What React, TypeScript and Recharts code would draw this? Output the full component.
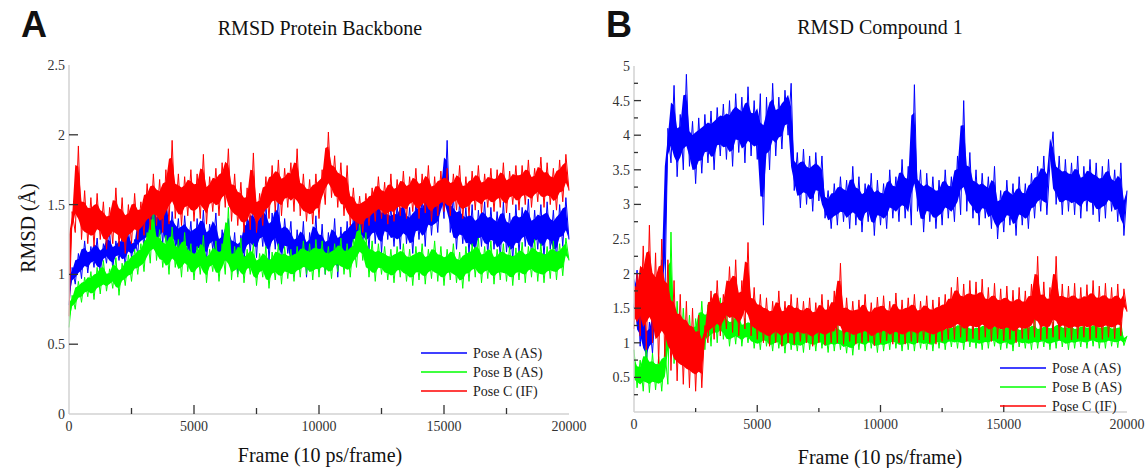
import { ComposedChart, Area, Line, XAxis, YAxis } from "recharts";

const SERIF = '"Liberation Serif", "Times New Roman", serif';
const SANS = '"Liberation Sans", Arial, sans-serif';
const TICK = "#333";
const BORDER = "#d2d2d2";
const BLUE = "#0000ff";
const GREEN = "#00ff00";
const RED = "#ff0000";

// frame index every 125 frames, 0..20000
const FRAMES = Array.from({ length: 161 }, (_, i) => i * 125);

// ---- Panel A: RMSD protein backbone (Å), one row = 1000 frames
const A_POSE_A = [
  0.78, 1.05, 0.93, 1.15, 0.97, 1.24, 1.01, 1.2,
  1.05, 1.26, 1.0, 1.22, 1.08, 1.3, 1.04, 1.24,
  1.1, 1.28, 1.06, 1.32, 1.12, 1.25, 1.15, 1.45,
  1.18, 1.52, 1.2, 1.58, 1.15, 1.48, 1.22, 1.62,
  1.12, 1.45, 1.2, 1.4, 1.08, 1.42, 1.15, 1.38,
  1.05, 1.4, 1.12, 1.46, 1.1, 1.36, 1.18, 1.44,
  1.02, 1.32, 1.1, 1.4, 1.05, 1.3, 1.0, 1.28,
  1.08, 1.42, 1.15, 1.5, 1.12, 1.45, 1.2, 1.52,
  1.1, 1.44, 1.18, 1.55, 1.08, 1.4, 1.15, 1.38,
  1.0, 1.32, 1.05, 1.38, 0.98, 1.3, 1.08, 1.42,
  1.02, 1.36, 1.0, 1.3, 1.05, 1.4, 0.98, 1.34,
  1.05, 1.38, 1.1, 1.42, 1.2, 1.5, 1.22, 1.48,
  1.18, 1.55, 1.22, 1.6, 1.15, 1.52, 1.25, 1.48,
  1.2, 1.5, 1.18, 1.56, 1.22, 1.48, 1.15, 1.52,
  1.25, 1.55, 1.2, 1.62, 1.28, 1.58, 1.3, 1.66,
  1.4, 1.96, 1.3, 1.56, 1.18, 1.52, 1.22, 1.48,
  1.15, 1.5, 1.12, 1.46, 1.2, 1.52, 1.14, 1.48,
  1.18, 1.45, 1.12, 1.52, 1.16, 1.44, 1.1, 1.5,
  1.15, 1.48, 1.2, 1.54, 1.12, 1.46, 1.18, 1.5,
  1.12, 1.52, 1.18, 1.46, 1.1, 1.5, 1.2, 1.55,
  1.25,
];

const A_POSE_B = [
  0.62, 0.85, 0.75, 0.95, 0.8, 0.98, 0.84, 1.02,
  0.82, 1.05, 0.86, 1.1, 0.88, 1.04, 0.9, 1.12,
  0.85, 1.08, 0.92, 1.14, 0.95, 1.18, 1.0, 1.22,
  1.02, 1.3, 1.08, 1.48, 1.1, 1.32, 1.05, 1.28,
  1.0, 1.34, 1.05, 1.25, 0.98, 1.3, 1.02, 1.22,
  0.96, 1.2, 1.0, 1.28, 0.94, 1.18, 1.02, 1.24,
  0.95, 1.22, 1.0, 1.48, 0.96, 1.2, 0.98, 1.26,
  0.94, 1.18, 1.0, 1.22, 0.92, 1.15, 0.98, 1.2,
  0.9, 1.16, 0.96, 1.22, 0.93, 1.2, 0.97, 1.18,
  0.95, 1.2, 0.98, 1.24, 1.0, 1.22, 0.96, 1.25,
  0.98, 1.24, 1.0, 1.2, 0.97, 1.22, 1.02, 1.26,
  1.0, 1.22, 0.98, 1.25, 1.05, 1.38, 1.1, 1.3,
  0.98, 1.24, 0.95, 1.22, 1.0, 1.2, 0.96, 1.18,
  0.94, 1.2, 0.98, 1.22, 0.95, 1.18, 0.92, 1.2,
  0.96, 1.22, 0.93, 1.18, 0.97, 1.24, 0.95, 1.2,
  0.92, 1.18, 0.96, 1.22, 0.94, 1.16, 0.9, 1.2,
  0.95, 1.22, 0.98, 1.26, 0.94, 1.2, 0.97, 1.24,
  0.93, 1.18, 0.96, 1.22, 0.95, 1.2, 0.92, 1.19,
  0.96, 1.23, 0.94, 1.2, 0.98, 1.25, 0.95, 1.22,
  0.94, 1.2, 0.97, 1.24, 0.96, 1.22, 0.99, 1.26,
  1.1,
];

const A_POSE_C = [
  0.7, 1.45, 1.3, 1.92, 1.25, 1.6, 1.22, 1.55,
  1.2, 1.58, 1.25, 1.52, 1.18, 1.48, 1.22, 1.62,
  1.2, 1.55, 1.15, 1.5, 1.22, 1.58, 1.25, 1.52,
  1.28, 1.65, 1.32, 1.72, 1.35, 1.68, 1.3, 1.75,
  1.36, 1.96, 1.4, 1.72, 1.35, 1.7, 1.42, 1.75,
  1.38, 1.72, 1.4, 1.86, 1.36, 1.7, 1.45, 1.76,
  1.42, 1.8, 1.48, 1.9, 1.38, 1.72, 1.35, 1.66,
  1.3, 1.62, 1.32, 1.87, 1.3, 1.58, 1.35, 1.7,
  1.4, 1.78, 1.45, 1.82, 1.42, 1.76, 1.48, 1.8,
  1.45, 1.9, 1.42, 1.72, 1.38, 1.68, 1.36, 1.72,
  1.4, 1.75, 1.5, 2.02, 1.55, 1.85, 1.48, 1.8,
  1.42, 1.78, 1.35, 1.62, 1.32, 1.56, 1.3, 1.58,
  1.35, 1.62, 1.38, 1.7, 1.4, 1.66, 1.36, 1.72,
  1.38, 1.68, 1.42, 1.74, 1.4, 1.7, 1.45, 1.76,
  1.4, 1.72, 1.44, 1.78, 1.38, 1.7, 1.42, 1.74,
  1.45, 1.76, 1.42, 1.72, 1.46, 1.78, 1.4, 1.7,
  1.42, 1.74, 1.46, 1.78, 1.44, 1.72, 1.48, 1.76,
  1.45, 1.75, 1.48, 1.8, 1.44, 1.74, 1.5, 1.78,
  1.46, 1.78, 1.5, 1.82, 1.48, 1.76, 1.52, 1.84,
  1.48, 1.8, 1.5, 1.76, 1.46, 1.82, 1.52, 1.86,
  1.6,
];

// ---- Panel B: RMSD compound 1 (Å)
const B_POSE_A = [
  1.5, 2.05, 0.95, 1.7, 0.7, 1.3, 0.85, 1.55,
  1.3, 2.2, 1.6, 4.1, 3.6, 4.72, 3.4, 4.3,
  3.5, 4.88, 3.55, 4.2, 3.3, 4.25, 3.45, 4.3,
  3.6, 4.35, 3.5, 4.4, 3.7, 4.45, 3.65, 4.5,
  3.55, 4.6, 3.75, 4.55, 3.6, 4.7, 3.7, 4.5,
  3.65, 4.6, 2.7, 4.55, 3.5, 4.75, 3.7, 4.55,
  3.8, 4.65, 4.0, 4.75, 3.2, 3.75, 2.95, 3.8,
  3.0, 3.7, 2.9, 3.75, 3.05, 3.7, 2.8, 3.2,
  2.65, 3.3, 2.7, 3.4, 2.75, 3.35, 2.65, 3.55,
  2.7, 3.4, 2.6, 3.3, 2.75, 3.45, 2.55, 3.35,
  2.7, 3.3, 2.65, 3.5, 2.8, 3.4, 2.75, 3.65,
  2.8, 3.55, 2.7, 4.73, 2.9, 3.5, 2.6, 3.45,
  2.75, 3.4, 2.65, 3.35, 2.7, 3.5, 2.8, 3.4,
  2.75, 3.7, 2.85, 4.5, 2.9, 3.75, 2.8, 3.5,
  2.7, 3.45, 2.8, 3.4, 2.65, 3.55, 2.5, 3.2,
  2.6, 3.35, 2.7, 3.3, 2.55, 3.4, 2.7, 3.3,
  2.65, 3.45, 2.8, 3.55, 2.9, 3.7, 2.85, 3.6,
  4.05, 3.0, 3.7, 2.85, 3.65, 2.9, 3.6, 2.85,
  3.7, 2.8, 3.55, 2.9, 3.65, 2.85, 3.6, 2.75,
  3.55, 2.8, 3.65, 2.9, 3.5, 2.75, 3.6, 2.55,
  3.2,
];

const B_POSE_B = [
  0.9, 0.35, 0.75, 0.3, 0.95, 0.28, 0.85, 0.32,
  0.8, 0.3, 0.9, 0.4, 2.6, 0.7, 1.6, 0.75,
  1.5, 0.8, 1.4, 0.75, 1.35, 0.85, 1.6, 0.9,
  1.55, 0.95, 1.7, 1.0, 1.65, 1.05, 1.45, 0.95,
  1.4, 0.98, 1.5, 0.95, 1.35, 1.0, 1.38, 0.92,
  1.3, 0.9, 1.35, 0.95, 1.28, 0.88, 1.32, 0.92,
  1.3, 0.85, 1.35, 0.9, 1.25, 0.88, 1.3, 0.86,
  1.4, 0.9, 1.3, 0.88, 1.32, 0.92, 1.28, 0.86,
  1.35, 0.88, 1.3, 0.9, 1.26, 0.85, 1.32, 0.82,
  1.3, 0.9, 1.34, 0.88, 1.28, 0.92, 1.3, 0.86,
  1.32, 0.88, 1.28, 0.9, 1.35, 0.92, 1.3, 0.88,
  1.3, 0.9, 1.35, 0.88, 1.3, 0.92, 1.28, 0.9,
  1.32, 0.88, 1.3, 0.92, 1.34, 0.9, 1.28, 0.94,
  1.3, 0.92, 1.35, 0.9, 1.32, 0.94, 1.28, 0.92,
  1.3, 0.9, 1.34, 0.92, 1.3, 0.95, 1.32, 0.9,
  1.28, 0.92, 1.32, 0.88, 1.3, 0.94, 1.26, 0.92,
  1.3, 0.9, 1.34, 0.92, 1.28, 0.94, 1.32, 0.9,
  1.3, 0.92, 1.35, 0.94, 1.3, 0.9, 1.32, 0.92,
  1.28, 0.94, 1.32, 0.92, 1.3, 0.95, 1.34, 0.92,
  1.3, 0.92, 1.32, 0.95, 1.28, 0.93, 1.3, 0.96,
  1.1,
];

const B_POSE_C = [
  1.2, 2.0, 1.1, 2.4, 0.9, 2.7, 1.0, 2.3,
  0.7, 2.5, 0.8, 2.2, 0.6, 1.9, 0.45, 1.7,
  0.4, 1.6, 0.35, 1.5, 0.3, 1.4, 0.35, 1.25,
  1.0, 1.75, 1.05, 1.9, 1.1, 1.7, 1.2, 2.1,
  1.15, 2.2, 1.1, 1.9, 1.2, 2.45, 1.1, 1.8,
  1.05, 1.7, 1.0, 1.65, 0.95, 1.6, 1.0, 1.75,
  0.95, 1.6, 1.0, 1.7, 0.98, 1.65, 1.02, 1.6,
  1.0, 1.65, 0.95, 1.58, 1.0, 1.7, 0.97, 1.62,
  1.0, 1.75, 1.0, 2.15, 0.98, 1.65, 1.02, 1.6,
  0.98, 1.62, 1.0, 1.7, 1.02, 1.58, 0.96, 1.66,
  1.0, 1.68, 1.03, 1.6, 0.98, 1.72, 1.0, 1.62,
  0.98, 1.65, 1.02, 1.7, 1.0, 1.6, 1.04, 1.68,
  1.0, 1.62, 0.98, 1.66, 1.02, 1.7, 1.05, 1.8,
  1.05, 1.95, 1.08, 1.85, 1.02, 1.9, 1.06, 1.88,
  1.04, 1.92, 1.08, 1.8, 1.02, 1.86, 1.06, 1.78,
  1.03, 1.82, 1.05, 1.76, 1.0, 1.8, 1.06, 1.75,
  1.05, 1.85, 1.08, 2.25, 1.04, 1.88, 1.06, 1.8,
  1.08, 2.25, 1.05, 1.85, 1.08, 1.82, 1.04, 1.86,
  1.06, 1.8, 1.08, 1.84, 1.05, 1.9, 1.07, 1.82,
  1.05, 1.86, 1.08, 1.8, 1.06, 1.85, 1.1, 1.78,
  1.45,
];

const X_TICKS = [0, 2500, 5000, 7500, 10000, 12500, 15000, 17500, 20000];
const A_Y_TICKS = [0, 0.5, 1, 1.5, 2, 2.5];
const B_Y_TICKS = [0, 0.25, 0.5, 0.75, 1, 1.25, 1.5, 1.75, 2, 2.25, 2.5, 2.75, 3, 3.25, 3.5, 3.75, 4, 4.25, 4.5, 4.75, 5];

const SERIES = [
  { key: "a", name: "Pose A (AS)", color: BLUE },
  { key: "b", name: "Pose B (AS)", color: GREEN },
  { key: "c", name: "Pose C (IF)", color: RED },
];

// the trace flickers between neighbouring samples: fill the core of that span,
// the raw trace drawn on top gives the spiky fringe
const core = (v: number[], i: number): [number, number] => {
  const n = v[Math.min(i + 1, v.length - 1)];
  const lo = Math.min(v[i], n);
  const hi = Math.max(v[i], n);
  const trim = (hi - lo) * 0.22;
  return [lo + trim, hi - trim];
};

const rowsFor = (a: number[], b: number[], c: number[]) =>
  FRAMES.map((f, i) => ({
    frame: f,
    a: a[i], b: b[i], c: c[i],
    aCore: core(a, i), bCore: core(b, i), cCore: core(c, i),
  }));

const ROWS_A = rowsFor(A_POSE_A, A_POSE_B, A_POSE_C);
const ROWS_B = rowsFor(B_POSE_A, B_POSE_B, B_POSE_C);

type TickArgs = { x?: number; y?: number; payload?: { value: number } };
type TickOpts = { major: number; minor: number; showZero?: boolean };

const isHalf = (v: number) => Math.abs(v * 2 - Math.round(v * 2)) < 1e-6;

function BottomTick({ x = 0, y = 0, payload, major, minor }: TickArgs & TickOpts) {
  const v = payload?.value ?? 0;
  const big = v % 5000 === 0;
  const edge = v === 0 || v === 20000;
  return (
    <g>
      {!edge && <line x1={x} x2={x} y1={y} y2={y - (big ? major : minor)} stroke={TICK} strokeWidth={1.3} />}
      {big && (
        <text x={x} y={y + 17} textAnchor="middle" fontFamily={SERIF} fontSize={14} fill={TICK}>
          {v}
        </text>
      )}
    </g>
  );
}

function TopTick({ x = 0, y = 0, payload, major, minor }: TickArgs & TickOpts) {
  const v = payload?.value ?? 0;
  if (v === 0 || v === 20000) return <g />;
  const big = v % 5000 === 0;
  return <line x1={x} x2={x} y1={y} y2={y + (big ? major : minor)} stroke={TICK} strokeWidth={1.3} />;
}

function LeftTick({ x = 0, y = 0, payload, major, minor, showZero }: TickArgs & TickOpts) {
  const v = payload?.value ?? 0;
  const big = isHalf(v);
  const edge = v === 0 || v === 2.5 || v === 5;
  const label = big && (v !== 0 || showZero);
  return (
    <g>
      {!edge && <line x1={x} x2={x + (big ? major : minor)} y1={y} y2={y} stroke={TICK} strokeWidth={1.3} />}
      {label && (
        <text x={x - 4} y={y + 5} textAnchor="end" fontFamily={SERIF} fontSize={14} fill={TICK}>
          {v}
        </text>
      )}
    </g>
  );
}

function RightTick({ x = 0, y = 0, payload, major, minor }: TickArgs & TickOpts) {
  const v = payload?.value ?? 0;
  if (v === 0 || v === 2.5 || v === 5) return <g />;
  const big = isHalf(v);
  return <line x1={x} x2={x - (big ? major : minor)} y1={y} y2={y} stroke={TICK} strokeWidth={1.3} />;
}

type PanelProps = {
  rows: typeof ROWS_A;
  left: number;
  width: number;
  margin: { top: number; right: number; bottom: number; left: number };
  yMax: number;
  yTicks: number[];
  major: number;
  minor: number;
  showZero: boolean;
};

function Panel({ rows, left, width, margin, yMax, yTicks, major, minor, showZero }: PanelProps) {
  const axisLine = { stroke: BORDER, strokeWidth: 1.5 };
  return (
    <div style={{ position: "absolute", left, top: 0 }}>
      <ComposedChart width={width} height={468} data={rows} margin={margin}>
        {SERIES.flatMap((s, idx) => [
          <Area
            key={`${s.key}-core`}
            type="linear"
            dataKey={`${s.key}Core`}
            stroke="none"
            fill={s.color}
            fillOpacity={1}
            dot={false}
            activeDot={false}
            isAnimationActive={false}
            zIndex={100 + idx * 2}
          />,
          <Line
            key={`${s.key}-trace`}
            type="linear"
            dataKey={s.key}
            stroke={s.color}
            strokeWidth={1}
            dot={false}
            activeDot={false}
            isAnimationActive={false}
            zIndex={101 + idx * 2}
          />,
        ])}
        <XAxis
          dataKey="frame"
          type="number"
          domain={[0, 20000]}
          ticks={X_TICKS}
          interval={0}
          height={30}
          tickSize={0}
          tickMargin={0}
          tickLine={false}
          axisLine={axisLine}
          tick={(p: TickArgs) => <BottomTick {...p} major={major} minor={minor} />}
        />
        <XAxis
          xAxisId="top"
          orientation="top"
          dataKey="frame"
          type="number"
          domain={[0, 20000]}
          ticks={X_TICKS}
          interval={0}
          height={0}
          tickSize={0}
          tickMargin={0}
          tickLine={false}
          axisLine={axisLine}
          tick={(p: TickArgs) => <TopTick {...p} major={major} minor={minor} />}
        />
        <YAxis
          type="number"
          domain={[0, yMax]}
          ticks={yTicks}
          interval={0}
          width={40}
          tickSize={0}
          tickMargin={0}
          tickLine={false}
          axisLine={axisLine}
          tick={(p: TickArgs) => <LeftTick {...p} major={major} minor={minor} showZero={showZero} />}
        />
        <YAxis
          yAxisId="right"
          orientation="right"
          type="number"
          domain={[0, yMax]}
          ticks={yTicks}
          interval={0}
          width={0}
          tickSize={0}
          tickMargin={0}
          tickLine={false}
          axisLine={axisLine}
          tick={(p: TickArgs) => <RightTick {...p} major={major} minor={minor} />}
        />
      </ComposedChart>
    </div>
  );
}

function Text({ x, y, size, children, rotate, weight, family }: {
  x: number; y: number; size: number; children: string; rotate?: boolean; weight?: number; family?: string;
}) {
  return (
    <div
      style={{
        position: "absolute",
        left: x,
        top: y,
        transform: `translate(-50%, -50%)${rotate ? " rotate(-90deg)" : ""}`,
        fontFamily: family ?? SERIF,
        fontSize: size,
        fontWeight: weight ?? 400,
        color: "#111",
        whiteSpace: "nowrap",
        lineHeight: 1,
      }}
    >
      {children}
    </div>
  );
}

function LegendBox({ left, top }: { left: number; top: number }) {
  return (
    <svg style={{ position: "absolute", left, top: top - 10, overflow: "visible" }} width={140} height={60}>
      {SERIES.map((s, i) => (
        <g key={s.key}>
          <line x1={0} x2={46} y1={10 + i * 19} y2={10 + i * 19} stroke={s.color} strokeWidth={1.6} />
          <text x={52} y={15 + i * 19} fontFamily={SERIF} fontSize={14} fill="#222">
            {s.name}
          </text>
        </g>
      ))}
    </svg>
  );
}

export default function App() {
  return (
    <div style={{ position: "absolute", left: 0, top: 0, width: 1146, height: 468, background: "#fff", overflow: "hidden" }}>
      <Panel
        rows={ROWS_A}
        left={0}
        width={600}
        margin={{ top: 65, right: 31, bottom: 24, left: 29 }}
        yMax={2.5}
        yTicks={A_Y_TICKS}
        major={9}
        minor={6}
        showZero
      />
      <Panel
        rows={ROWS_B}
        left={580}
        width={566}
        margin={{ top: 66, right: 19, bottom: 26, left: 14 }}
        yMax={5}
        yTicks={B_Y_TICKS}
        major={7}
        minor={4}
        showZero={false}
      />
      <Text x={34} y={25} size={36} weight={700} family={SANS}>A</Text>
      <Text x={619} y={25} size={36} weight={700} family={SANS}>B</Text>
      <Text x={320} y={28} size={20}>RMSD Protein Backbone</Text>
      <Text x={880} y={27} size={20}>RMSD Compound 1</Text>
      <Text x={320} y={455} size={20}>Frame (10 ps/frame)</Text>
      <Text x={880} y={457} size={20}>Frame (10 ps/frame)</Text>
      <Text x={28} y={228} size={20} rotate>RMSD (Å)</Text>
      <LegendBox left={421} top={353} />
      <LegendBox left={1000} top={368} />
    </div>
  );
}
